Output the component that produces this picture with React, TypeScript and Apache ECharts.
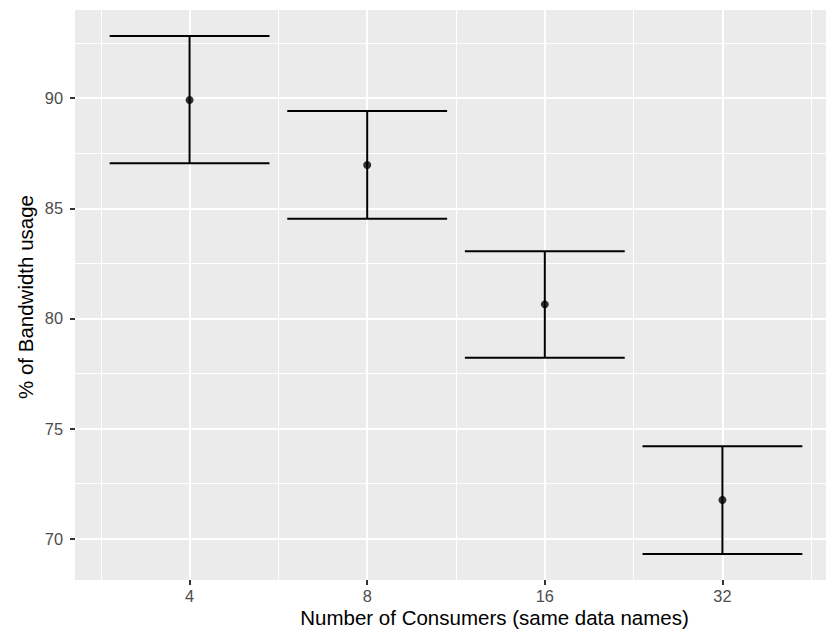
import React, { useEffect, useRef } from "react";
import * as echarts from "echarts";

// ---- data ----
const categories = ["4", "8", "16", "32"];
const means = [89.92, 86.97, 80.64, 71.76];
const upper = [92.83, 89.42, 83.05, 74.2];
const lower = [87.05, 84.53, 78.21, 69.3];
const yTicks = [70, 75, 80, 85, 90];
const yMinorTicks = [72.5, 77.5, 82.5, 87.5, 92.5];
const xTicks = [1, 2, 3, 4];
const xMinorTicks = [0.5, 1.5, 2.5, 3.5, 4.5];
const xTitle = "Number of Consumers (same data names)";
const yTitle = "% of Bandwidth usage";

const FONT = "'Liberation Sans', Arial, Helvetica, sans-serif";
const BAR_HALF = 0.45;

export default function App() {
  const ref = useRef<HTMLDivElement>(null);

  useEffect(() => {
    if (!ref.current) return;
    const chart = echarts.init(ref.current, undefined, { renderer: "svg" });

    const lo = Math.min(...lower);
    const hi = Math.max(...upper);
    const pad = (hi - lo) * 0.05;
    const yMin = lo - pad;
    const yMax = hi + pad;
    const xSpan = categories.length - 1 + 2 * BAR_HALF;
    const xMin = 1 - BAR_HALF - xSpan * 0.05;
    const xMax = categories.length + BAR_HALF + xSpan * 0.05;

    const errData = categories.map((_, i) => [i + 1, lower[i], upper[i]]);
    const meanData = categories.map((_, i) => [i + 1, means[i]]);

    const baseX = {
      type: "value" as const,
      min: xMin,
      max: xMax,
      position: "bottom" as const,
      axisLine: { show: false },
    };
    const baseY = {
      type: "value" as const,
      min: yMin,
      max: yMax,
      position: "left" as const,
      axisLine: { show: false },
    };

    chart.setOption({
      animation: false,
      grid: {
        left: 75,
        top: 10,
        width: 762,
        height: 570,
        show: true,
        backgroundColor: "#EBEBEB",
        borderWidth: 0,
        containLabel: false,
        outerBoundsMode: "none",
      },
      xAxis: [
        {
          ...baseX,
          axisTick: {
            show: false,
            customValues: xMinorTicks,
          },
          axisLabel: { show: false, customValues: xMinorTicks },
          splitLine: { show: true, lineStyle: { color: "#FFFFFF", width: 1 } },
        },
        {
          ...baseX,
          axisTick: {
            show: true,
            customValues: xTicks,
            length: 5,
            lineStyle: { color: "#333333", width: 2 },
          },
          axisLabel: {
            customValues: xTicks,
            formatter: (v: number) => categories[Math.round(v) - 1] ?? "",
            color: "#4D4D4D",
            fontSize: 16.4,
            fontFamily: FONT,
            margin: 8,
          },
          splitLine: { show: true, lineStyle: { color: "#FFFFFF", width: 2 } },
        },
      ],
      yAxis: [
        {
          ...baseY,
          axisTick: { show: false, customValues: yMinorTicks },
          axisLabel: { show: false, customValues: yMinorTicks },
          splitLine: { show: true, lineStyle: { color: "#FFFFFF", width: 1 } },
        },
        {
          ...baseY,
          axisTick: {
            show: true,
            customValues: yTicks,
            length: 5,
            lineStyle: { color: "#333333", width: 2 },
          },
          axisLabel: {
            customValues: yTicks,
            color: "#4D4D4D",
            fontSize: 16.4,
            fontFamily: FONT,
            margin: 12,
          },
          splitLine: { show: true, lineStyle: { color: "#FFFFFF", width: 2 } },
        },
      ],
      series: [
        {
          type: "custom",
          xAxisIndex: 1,
          yAxisIndex: 1,
          data: errData,
          renderItem: (params: any, api: any) => {
            const x = api.value(0);
            const l = api.value(1);
            const u = api.value(2);
            const top = api.coord([x, u]);
            const bot = api.coord([x, l]);
            const tl = api.coord([x - BAR_HALF, u]);
            const tr = api.coord([x + BAR_HALF, u]);
            const bl = api.coord([x - BAR_HALF, l]);
            const br = api.coord([x + BAR_HALF, l]);
            const style = { stroke: "#000000", lineWidth: 2 };
            return {
              type: "group",
              children: [
                { type: "line", shape: { x1: top[0], y1: top[1], x2: bot[0], y2: bot[1] }, style },
                { type: "line", shape: { x1: tl[0], y1: tl[1], x2: tr[0], y2: tr[1] }, style },
                { type: "line", shape: { x1: bl[0], y1: bl[1], x2: br[0], y2: br[1] }, style },
              ],
            };
          },
          z: 3,
        },
        {
          type: "scatter",
          xAxisIndex: 1,
          yAxisIndex: 1,
          data: meanData,
          symbol: "circle",
          symbolSize: 8,
          itemStyle: { color: "#000000" },
          z: 4,
        },
      ],
      graphic: [
        {
          type: "text",
          x: 494.5,
          y: 617.5,
          style: {
            text: xTitle,
            fill: "#000000",
            font: `20.5px ${FONT}`,
            textAlign: "center",
            textVerticalAlign: "middle",
          },
        },
        {
          type: "text",
          x: 25,
          y: 297,
          rotation: Math.PI / 2,
          style: {
            text: yTitle,
            fill: "#000000",
            font: `20.5px ${FONT}`,
            textAlign: "center",
            textVerticalAlign: "middle",
          },
        },
      ],
    });

    return () => chart.dispose();
  }, []);

  return (
    <div
      ref={ref}
      style={{ position: "absolute", left: 0, top: 0, width: 826, height: 629 }}
    />
  );
}
